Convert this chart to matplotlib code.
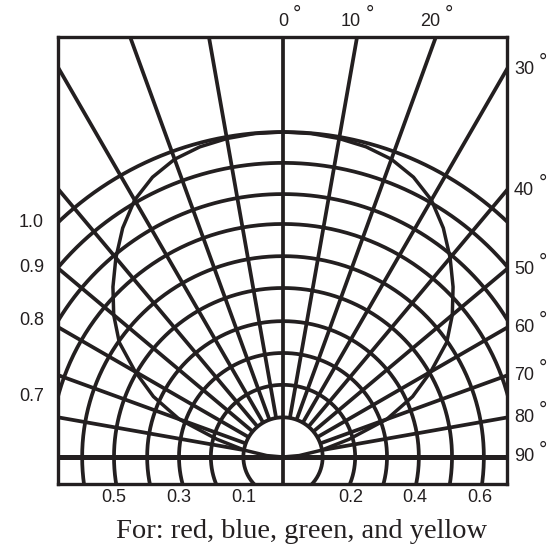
import numpy as np
import matplotlib.pyplot as plt

INK = "#231f20"

# concentric rings: scale value and radius as a fraction of the outer ring
ring_values = [0.1, 0.2, 0.3, 0.4, 0.5, 0.6, 0.7, 0.8, 0.9, 1.0]
ring_radius = [0.122, 0.222, 0.320, 0.418, 0.520, 0.618, 0.717, 0.809, 0.905, 1.0]

# spokes every 10 deg either side of the axis (0 and 90 drawn separately)
spoke_angles = [-80, -70, -60, -50, -40, -30, -20, -10, 10, 20, 30, 40, 50, 60, 70, 80]

# radiation pattern (symmetric), angle from axis in deg -> relative intensity
pattern_angles = [0, 5, 10, 15, 20, 25, 30, 35, 40, 45, 50, 55, 60, 65, 70, 75, 80, 85, 90]
pattern_radius = [1.0, 0.999, 0.995, 0.988, 0.975, 0.95, 0.913, 0.86, 0.80, 0.74,
                  0.68, 0.615, 0.525, 0.44, 0.34, 0.21, 0.12, 0.05, 0.0]

left_labels = ["1.0", "0.9", "0.8", "0.7"]
bottom_left_labels = ["0.5", "0.3", "0.1"]
bottom_right_labels = ["0.2", "0.4", "0.6"]
top_angle_labels = [0, 10, 20]
right_angle_labels = [30, 40, 50, 60, 70, 80, 90]

plt.rcParams["font.family"] = ["Liberation Sans", "DejaVu Sans"]

fig = plt.figure(figsize=(5.6, 5.53), dpi=100)
ax = fig.add_axes([58 / 560, (553 - 484) / 553, 449 / 560, 447 / 553])
xmin, xmax = -0.6923, 0.6892
ymin, ymax = -0.0831, 1.2923
ax.set_xlim(xmin, xmax)
ax.set_ylim(ymin, ymax)
ax.set_xticks([])
ax.set_yticks([])
for sp in ax.spines.values():
    sp.set_linewidth(2.4)
    sp.set_color(INK)

grid_kw = dict(color=INK, lw=2.7, solid_capstyle="butt")

# rings (full circles, clipped by the frame)
t = np.linspace(0, 2 * np.pi, 721)
for r in ring_radius:
    ax.plot(r * np.cos(t), r * np.sin(t), **grid_kw)

# spokes from the inner ring outwards
r0 = ring_radius[0]
for a in spoke_angles:
    th = np.radians(a)
    ax.plot([r0 * np.sin(th), 3 * np.sin(th)], [r0 * np.cos(th), 3 * np.cos(th)], **grid_kw)
ax.plot([0, 0], [ymin - 1, ymax + 1], **grid_kw)
ax.plot([xmin - 1, xmax + 1], [0, 0], color=INK, lw=3.6)

# radiation pattern curve
ang = np.radians(np.array(pattern_angles, dtype=float))
rad = np.array(pattern_radius)
px = np.concatenate([-(rad * np.sin(ang))[::-1], (rad * np.sin(ang))[1:]])
py = np.concatenate([(rad * np.cos(ang))[::-1], (rad * np.cos(ang))[1:]])
ax.plot(px, py, color=INK, lw=2.5)

lab_kw = dict(fontsize=13, color=INK, annotation_clip=False)

# left scale labels where the rings meet the frame
for lab in left_labels:
    r = ring_radius[ring_values.index(float(lab))]
    yc = np.sqrt(r ** 2 - xmin ** 2)
    ax.annotate(lab, xy=(xmin, yc), xytext=(-10, 0), textcoords="offset points",
                ha="right", va="center", **lab_kw)

# bottom scale labels under the rings
for lab in bottom_left_labels:
    r = ring_radius[ring_values.index(float(lab))]
    ax.annotate(lab, xy=(-r, ymin), xytext=(0, -9.5), textcoords="offset points",
                ha="center", va="center", **lab_kw)
for lab in bottom_right_labels:
    r = ring_radius[ring_values.index(float(lab))]
    ax.annotate(lab, xy=(r, ymin), xytext=(-3, -9.5), textcoords="offset points",
                ha="center", va="center", **lab_kw)


def degree(txt):
    ax.annotate("°", xy=(1, 1), xycoords=txt, xytext=(3.5, -1), textcoords="offset points",
                ha="left", va="center", fontsize=15, color=INK, annotation_clip=False)


for a in top_angle_labels:
    xe = ymax * np.tan(np.radians(a))
    txt = ax.annotate(str(a), xy=(xe, ymax), xytext=(0 if a == 0 else 3, 11),
                      textcoords="offset points", ha="center" if a == 0 else "right",
                      va="center", **lab_kw)
    degree(txt)

for a in right_angle_labels:
    ye = xmax / np.tan(np.radians(a)) if a < 90 else 0.0
    txt = ax.annotate(str(a), xy=(xmax, ye), xytext=(5, 0), textcoords="offset points",
                      ha="left", va="center", **lab_kw)
    degree(txt)

fig.text(0.538, (553 - 532) / 553, "For: red, blue, green, and yellow",
         ha="center", va="center", fontsize=20.5, color=INK,
         family=["Liberation Serif", "DejaVu Serif"])

fig.savefig("out.png", dpi=100)
